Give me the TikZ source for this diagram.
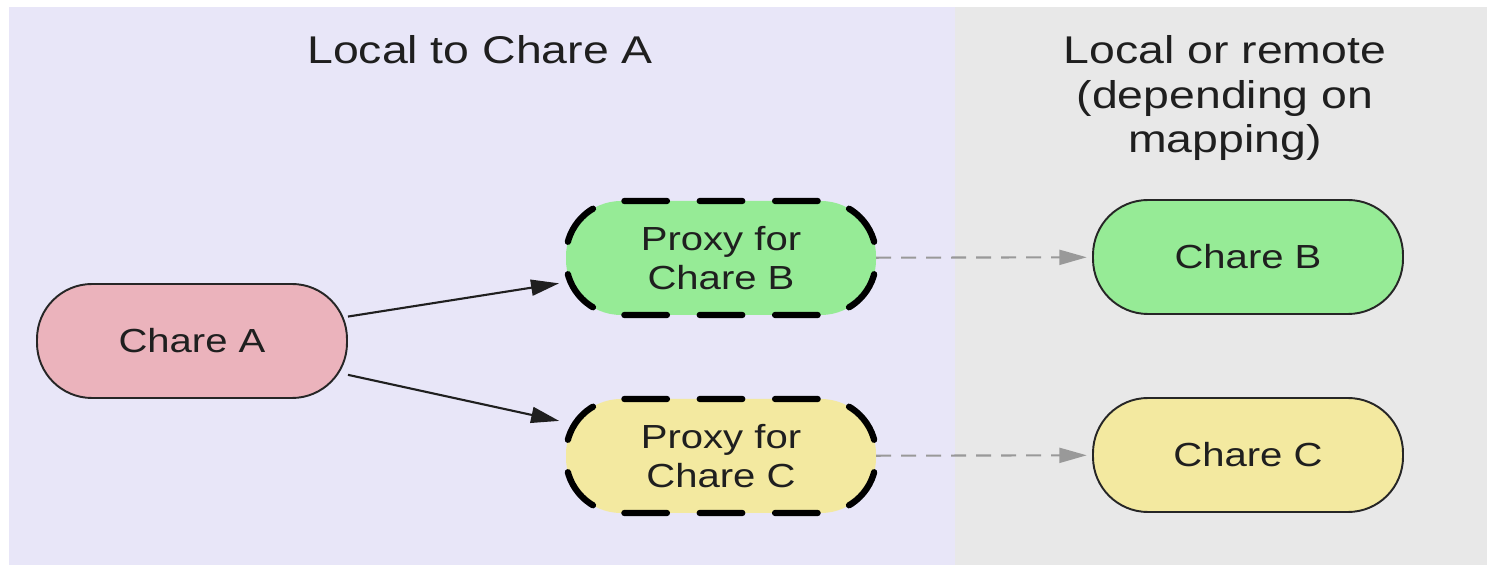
\documentclass[tikz,border=0pt]{standalone}
\usepackage{fontspec}
\setmainfont[FakeStretch=1.2]{Liberation Sans}
\usetikzlibrary{arrows.meta}
\definecolor{lavenderbg}{HTML}{E8E6F8}
\definecolor{graybg}{HTML}{E8E8E8}
\definecolor{charepink}{HTML}{EBB3BC}
\definecolor{charegreen}{HTML}{96EB96}
\definecolor{chareyellow}{HTML}{F3E9A0}
\begin{document}
\begin{tikzpicture}[
				chare/.style={rectangle, draw=black!85, line width=1.1pt, rounded corners=1.1cm,
					minimum width=6.2cm, minimum height=2.28cm, align=center,
					text=black!88, font=\fontsize{19}{22}\selectfont},
				proxy/.style={chare, draw=none, outer sep=0pt},
				proxyline/.style={line width=3.6pt, line cap=round, rounded corners=1.1cm,
					dash pattern=on 0.85cm off 0.657cm, dash phase=1.1785cm},
				heading/.style={anchor=north, inner sep=0pt, align=center,
					text=black!88, font=\fontsize{22}{25.5}\selectfont},
				call/.style={line width=1.2pt, draw=black!88, -{Triangle[length=0.56cm,width=0.32cm]}, shorten >=4pt},
				forward/.style={line width=1.2pt, draw=black!40, dash pattern=on 0.3cm off 0.2cm,
					-{Triangle[length=0.55cm,width=0.3cm]}, shorten >=3pt}
			]
			\useasboundingbox (0,0) rectangle (29.74,11.32);
			% the two regions
			\fill[lavenderbg] (0.18,0.02) rectangle (19.1,11.18);
			\fill[graybg] (19.1,0.02) rectangle (29.74,11.18);
			\node[heading] (localhead) at (9.6,10.62) {Local to Chare A};
			\node[heading] (remotehead) at (24.5,10.62) {Local or remote\\(depending on\\mapping)};
			% chares and proxies
			\node[chare, fill=charepink] (chareA) at (3.84,4.5) {Chare A};
			\node[proxy, fill=charegreen] (proxyB) at (14.42,6.16) {Proxy for\\Chare B};
			\node[proxy, fill=chareyellow] (proxyC) at (14.42,2.2) {Proxy for\\Chare C};
			\node[chare, fill=charegreen] (chareB) at (24.96,6.18) {Chare B};
			\node[chare, fill=chareyellow] (chareC) at (24.96,2.22) {Chare C};
			% dashed outline of the proxies, starting mid-left
			\foreach \p in {proxyB,proxyC}
				\draw[proxyline] (\p.west) -- (\p.north west) -- (\p.north east)
					-- (\p.south east) -- (\p.south west) -- (\p.west);
			\draw[call] (chareA) -- (proxyB);
			\draw[call] (chareA) -- (proxyC);
			\draw[forward] (proxyB) -- (chareB);
			\draw[forward] (proxyC) -- (chareC);
		\end{tikzpicture}
\end{document}
